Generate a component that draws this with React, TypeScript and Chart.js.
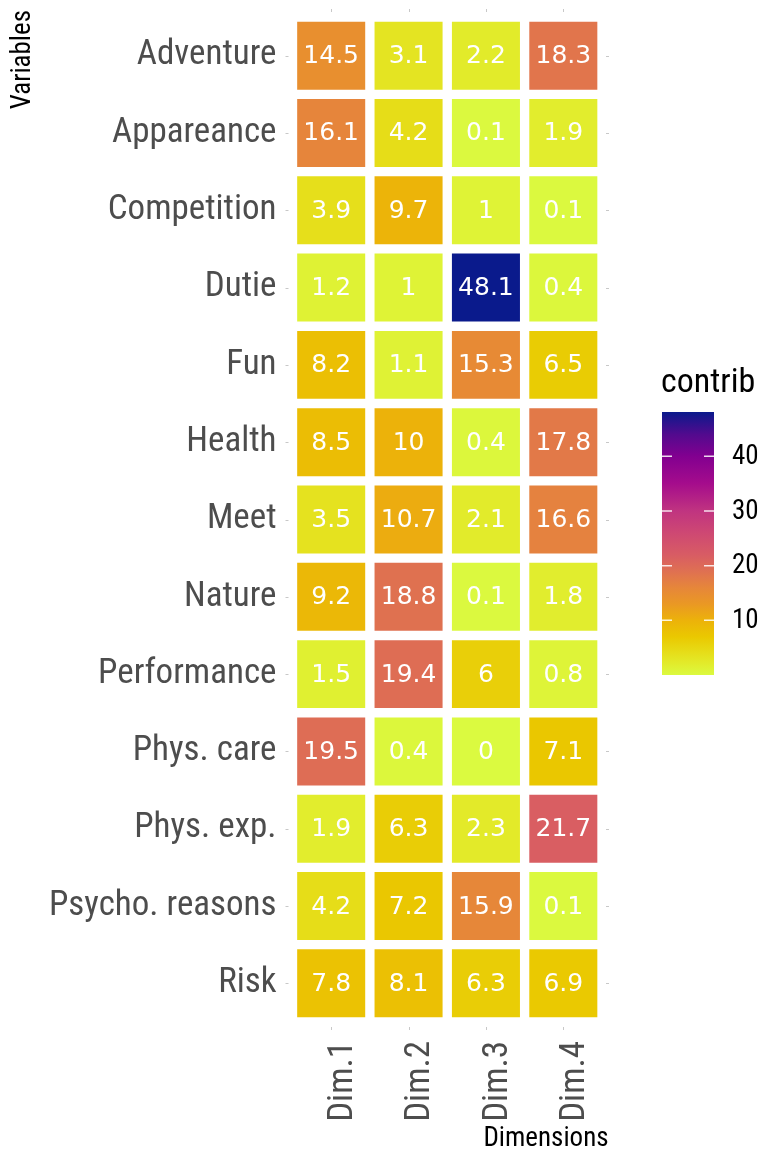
import React, { useEffect, useRef } from "react";
import { Chart, registerables } from "chart.js";

Chart.register(...registerables);

// ---------- data ----------
const variables = [
  "Adventure",
  "Appareance",
  "Competition",
  "Dutie",
  "Fun",
  "Health",
  "Meet",
  "Nature",
  "Performance",
  "Phys. care",
  "Phys. exp.",
  "Psycho. reasons",
  "Risk",
];
const dimensions = ["Dim.1", "Dim.2", "Dim.3", "Dim.4"];
const dim1 = [14.5, 16.1, 3.9, 1.2, 8.2, 8.5, 3.5, 9.2, 1.5, 19.5, 1.9, 4.2, 7.8];
const dim2 = [3.1, 4.2, 9.7, 1, 1.1, 10, 10.7, 18.8, 19.4, 0.4, 6.3, 7.2, 8.1];
const dim3 = [2.2, 0.1, 1, 48.1, 15.3, 0.4, 2.1, 0.1, 6, 0, 2.3, 15.9, 6.3];
const dim4 = [18.3, 1.9, 0.1, 0.4, 6.5, 17.8, 16.6, 1.8, 0.8, 7.1, 21.7, 0.1, 6.9];
const legendTicks = [10, 20, 30, 40];
const colorMin = 0;
const colorMax = 48.1;

const dimValues = [dim1, dim2, dim3, dim4];

// ---------- colour scale ----------
const stops: [number, number[]][] = [
  [0, [219, 250, 64]],
  [2, [226, 236, 44]],
  [4, [230, 222, 26]],
  [7, [234, 200, 0]],
  [10, [236, 178, 10]],
  [13, [234, 152, 36]],
  [16, [230, 134, 58]],
  [19, [223, 112, 82]],
  [22, [216, 92, 100]],
  [26, [206, 72, 115]],
  [30, [192, 52, 128]],
  [35, [165, 12, 140]],
  [40, [130, 0, 144]],
  [44, [82, 10, 142]],
  [48.1, [10, 26, 140]],
];

function colorFor(v: number): string {
  if (v <= stops[0][0]) return `rgb(${stops[0][1].join(",")})`;
  for (let i = 1; i < stops.length; i++) {
    if (v <= stops[i][0]) {
      const [v0, c0] = stops[i - 1];
      const [v1, c1] = stops[i];
      const t = (v - v0) / (v1 - v0);
      const c = c0.map((a, k) => Math.round(a + (c1[k] - a) * t));
      return `rgb(${c.join(",")})`;
    }
  }
  return `rgb(${stops[stops.length - 1][1].join(",")})`;
}

const AXIS_FONT = "'Roboto Condensed', 'Liberation Sans Narrow', Roboto, sans-serif";
const TILE_FONT = "'DejaVu Sans', sans-serif";

// ---------- plugins ----------
const tileLabels = {
  id: "tileLabels",
  afterDatasetsDraw(chart: any) {
    const ctx = chart.ctx;
    ctx.save();
    ctx.fillStyle = "#ffffff";
    ctx.font = `25px ${TILE_FONT}`;
    ctx.textAlign = "center";
    ctx.textBaseline = "middle";
    chart.data.datasets.forEach((ds: any, di: number) => {
      const meta = chart.getDatasetMeta(di);
      meta.data.forEach((el: any, i: number) => {
        const p = el.getCenterPoint();
        ctx.fillText(String(ds.values[i]), p.x, p.y + 1);
      });
    });
    ctx.restore();
  },
};

const tickMarks = {
  id: "tickMarks",
  afterDraw(chart: any) {
    const ctx = chart.ctx;
    const { x, y } = chart.scales;
    const area = chart.chartArea;
    ctx.save();
    ctx.strokeStyle = "#c8c8c8";
    ctx.lineWidth = 1;
    ctx.beginPath();
    dimensions.forEach((_, i) => {
      const px = Math.round(x.getPixelForValue(i + 1)) + 0.5;
      ctx.moveTo(px, area.top - 8);
      ctx.lineTo(px, area.top - 5);
      ctx.moveTo(px, area.bottom + 5);
      ctx.lineTo(px, area.bottom + 8);
    });
    variables.forEach((_, i) => {
      const py = Math.round(y.getPixelForValue(i)) + 0.5;
      ctx.moveTo(area.left - 7, py);
      ctx.lineTo(area.left - 4, py);
      ctx.moveTo(area.right + 4, py);
      ctx.lineTo(area.right + 7, py);
    });
    ctx.stroke();

    // axis titles
    ctx.fillStyle = "#000000";
    ctx.font = `27px ${AXIS_FONT}`;
    ctx.textBaseline = "middle";
    ctx.save();
    ctx.translate(23, 10);
    ctx.rotate(-Math.PI / 2);
    ctx.textAlign = "right";
    ctx.fillText("Variables", 0, 0);
    ctx.restore();
    ctx.textAlign = "center";
    ctx.textBaseline = "alphabetic";
    ctx.fillText("Dimensions", 546, 1146);
    ctx.restore();
  },
};

const colorLegend = {
  id: "colorLegend",
  afterDraw(chart: any) {
    const ctx = chart.ctx;
    const left = 662;
    const right = 714;
    const top = 412;
    const bottom = 675;
    const yFor = (v: number) => bottom - ((v - colorMin) / (colorMax - colorMin)) * (bottom - top);
    ctx.save();
    const g = ctx.createLinearGradient(0, bottom, 0, top);
    stops.forEach(([v, c]) => {
      g.addColorStop((v - colorMin) / (colorMax - colorMin), `rgb(${c.join(",")})`);
    });
    ctx.fillStyle = g;
    ctx.fillRect(left, top, right - left, bottom - top);

    ctx.strokeStyle = "rgba(255,255,255,0.85)";
    ctx.lineWidth = 1.5;
    ctx.beginPath();
    legendTicks.forEach((t) => {
      const py = yFor(t);
      ctx.moveTo(left, py);
      ctx.lineTo(left + 10, py);
      ctx.moveTo(right - 10, py);
      ctx.lineTo(right, py);
    });
    ctx.stroke();

    ctx.fillStyle = "#000000";
    ctx.font = `27px ${AXIS_FONT}`;
    ctx.textAlign = "left";
    ctx.textBaseline = "middle";
    legendTicks.forEach((t) => {
      ctx.fillText(String(t), 732, yFor(t) + 1);
    });

    ctx.font = `34px ${AXIS_FONT}`;
    ctx.textBaseline = "alphabetic";
    ctx.fillText("contrib", 661, 392);
    ctx.restore();
  },
};

export default function App() {
  const canvasRef = useRef<HTMLCanvasElement | null>(null);

  useEffect(() => {
    if (!canvasRef.current) return;
    const datasets = dimValues.map((vals, k) => ({
      label: dimensions[k],
      data: variables.map(() => [k + 0.5, k + 1.5]),
      values: vals,
      backgroundColor: vals.map(colorFor),
      borderColor: "#ffffff",
      borderWidth: 5,
      borderSkipped: false,
      grouped: false,
      barPercentage: 1,
      categoryPercentage: 1,
    }));

    const chart = new Chart(canvasRef.current, {
      type: "bar",
      data: { labels: variables, datasets: datasets as any },
      options: {
        indexAxis: "y",
        animation: false,
        responsive: true,
        maintainAspectRatio: false,
        layout: { padding: { top: 17, right: 163, bottom: 0, left: 0 } },
        plugins: {
          legend: { display: false },
          tooltip: { enabled: false },
        },
        scales: {
          x: {
            type: "linear",
            min: 0.5,
            max: 4.5,
            afterBuildTicks: (scale: any) => {
              scale.ticks = dimensions.map((_, i) => ({ value: i + 1 }));
            },
            afterFit: (scale: any) => {
              scale.height = 130;
              scale.paddingLeft = 0;
              scale.paddingRight = 0;
            },
            grid: { display: false, drawTicks: false },
            border: { display: false },
            ticks: {
              autoSkip: false,
              minRotation: 90,
              maxRotation: 90,
              padding: 19,
              labelOffset: 12,
              color: "#4d4d4d",
              font: { family: AXIS_FONT, size: 35 },
              callback: (v: any) => dimensions[Number(v) - 1],
            },
          },
          y: {
            type: "category",
            afterFit: (scale: any) => {
              scale.width = 292.5;
              scale.paddingTop = 0;
              scale.paddingBottom = 0;
            },
            grid: { display: false, drawTicks: false },
            border: { display: false },
            ticks: {
              padding: 16,
              color: "#4d4d4d",
              font: { family: AXIS_FONT, size: 35 },
            },
          },
        },
      },
      plugins: [tileLabels, tickMarks, colorLegend],
    });
    return () => chart.destroy();
  }, []);

  return (
    <div style={{ position: "absolute", left: 0, top: 0, width: 765, height: 1152, background: "#ffffff" }}>
      <canvas ref={canvasRef} />
    </div>
  );
}
